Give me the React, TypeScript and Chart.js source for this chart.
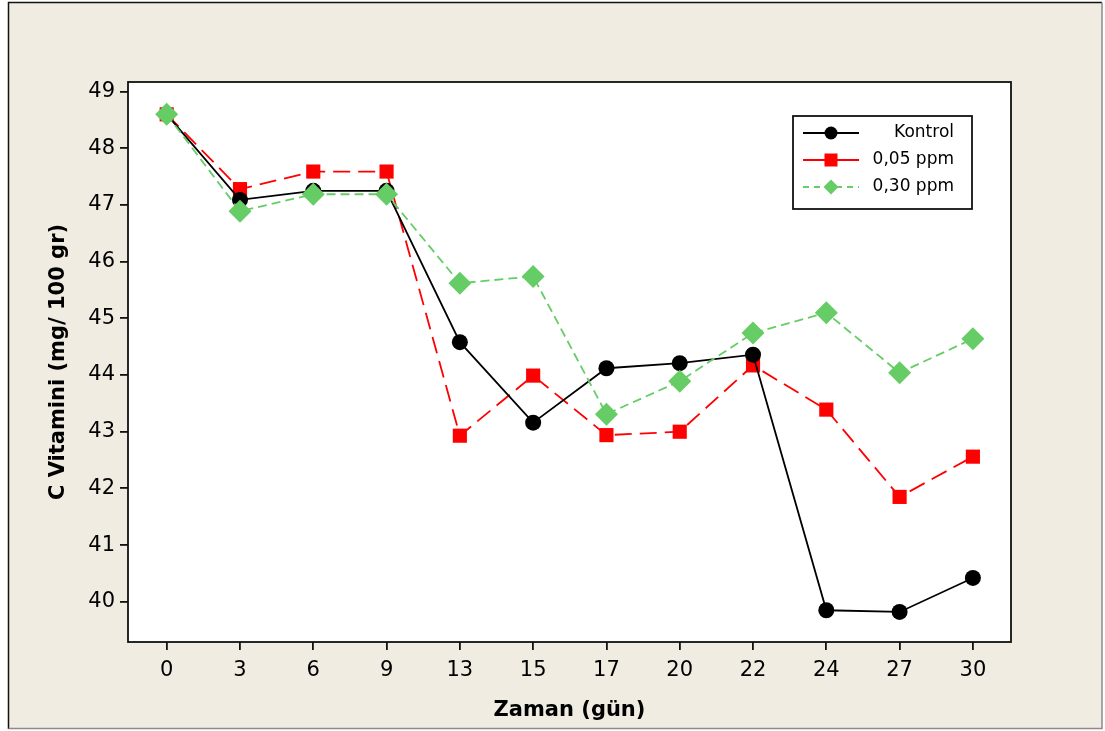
import React, { useEffect, useRef } from 'react';
import { Chart, registerables } from 'chart.js';

Chart.register(...registerables);

const days = ['0', '3', '6', '9', '13', '15', '17', '20', '22', '24', '27', '30'];
const kontrol = [48.6, 47.09, 47.25, 47.25, 44.58, 43.16, 44.12, 44.21, 44.36, 39.85, 39.82, 40.42];
const ppm005 = [48.6, 47.28, 47.59, 47.59, 42.93, 43.99, 42.94, 43.0, 44.17, 43.39, 41.85, 42.56];
const ppm030 = [48.6, 46.89, 47.19, 47.19, 45.62, 45.74, 43.31, 43.89, 44.74, 45.1, 44.04, 44.64];
const yTicks = [40, 41, 42, 43, 44, 45, 46, 47, 48, 49];
const seriesNames = ['Kontrol', '0,05 ppm', '0,30 ppm'];
const xTitle = 'Zaman (gün)';
const yTitle = 'C Vitamini (mg/ 100 gr)';

const FONT = '"DejaVu Sans", Verdana, sans-serif';
const BEIGE = '#F0ECE2';
const RED = '#FF0000';
const GREEN = '#66CC66';

const legendStyles = [
  { color: '#000000', dash: [] as number[], shape: 'circle' },
  { color: RED, dash: [] as number[], shape: 'square' },
  { color: GREEN, dash: [6, 5], shape: 'diamond' },
];

function drawMarker(ctx: CanvasRenderingContext2D, shape: string, x: number, y: number, s: number, color: string) {
  ctx.save();
  ctx.fillStyle = color;
  ctx.beginPath();
  if (shape === 'circle') {
    ctx.arc(x, y, s / 2, 0, Math.PI * 2);
  } else if (shape === 'square') {
    ctx.rect(x - s / 2, y - s / 2, s, s);
  } else {
    ctx.moveTo(x, y - s / 2 - 1);
    ctx.lineTo(x + s / 2 + 1, y);
    ctx.lineTo(x, y + s / 2 + 1);
    ctx.lineTo(x - s / 2 - 1, y);
    ctx.closePath();
  }
  ctx.fill();
  ctx.restore();
}

const framePlugin = {
  id: 'frame',
  beforeDraw(chart: any) {
    const { ctx, chartArea } = chart;
    const W = chart.width;
    const H = chart.height;
    ctx.save();
    ctx.fillStyle = '#FFFFFF';
    ctx.fillRect(0, 0, W, H);
    ctx.fillStyle = BEIGE;
    ctx.fillRect(8, 2, 1094, 727);
    ctx.lineWidth = 1.5;
    ctx.strokeStyle = '#111111';
    ctx.beginPath();
    ctx.moveTo(8.5, 729);
    ctx.lineTo(8.5, 2.5);
    ctx.lineTo(1102, 2.5);
    ctx.stroke();
    ctx.strokeStyle = '#8a8a8a';
    ctx.beginPath();
    ctx.moveTo(1102, 2.5);
    ctx.lineTo(1102, 728.5);
    ctx.lineTo(8.5, 728.5);
    ctx.stroke();
    ctx.fillStyle = '#FFFFFF';
    ctx.fillRect(chartArea.left, chartArea.top, chartArea.right - chartArea.left, chartArea.bottom - chartArea.top);
    ctx.restore();
  },
  beforeDatasetsDraw(chart: any) {
    const { ctx, chartArea } = chart;
    ctx.save();
    ctx.lineWidth = 1.8;
    ctx.strokeStyle = '#111111';
    ctx.strokeRect(chartArea.left, chartArea.top, chartArea.right - chartArea.left, chartArea.bottom - chartArea.top);
    ctx.restore();
  },
  afterDraw(chart: any) {
    const { ctx } = chart;
    const bx = 793, by = 116, bw = 179, bh = 93;
    ctx.save();
    ctx.fillStyle = '#FFFFFF';
    ctx.fillRect(bx, by, bw, bh);
    ctx.lineWidth = 1.8;
    ctx.strokeStyle = '#111111';
    ctx.strokeRect(bx, by, bw, bh);
    const rows = [133, 160, 187];
    seriesNames.forEach((name, i) => {
      const st = legendStyles[i];
      const y = rows[i];
      ctx.strokeStyle = st.color;
      ctx.lineWidth = 1.8;
      ctx.setLineDash(st.dash);
      ctx.beginPath();
      ctx.moveTo(803, y);
      ctx.lineTo(859, y);
      ctx.stroke();
      ctx.setLineDash([]);
      drawMarker(ctx, st.shape, 831, y, st.shape === 'diamond' ? 13 : 13, st.color);
      ctx.fillStyle = '#000000';
      ctx.font = '17px ' + FONT;
      ctx.textAlign = 'right';
      ctx.textBaseline = 'middle';
      ctx.fillText(name, 954, y);
    });
    ctx.restore();
  },
};

export default function App() {
  const ref = useRef<HTMLCanvasElement>(null);

  useEffect(() => {
    document.body.style.margin = '0';
    const canvas = ref.current;
    if (!canvas) return;
    const toXY = (arr: number[]) => arr.map((v, i) => ({ x: i, y: v }));
    const chart = new Chart(canvas, {
      type: 'line',
      data: {
        datasets: [
          {
            label: seriesNames[0],
            data: toXY(kontrol),
            borderColor: '#000000',
            backgroundColor: '#000000',
            borderWidth: 1.8,
            pointStyle: 'circle',
            pointRadius: 8,
            pointBorderWidth: 0,
            tension: 0,
            order: 1,
          },
          {
            label: seriesNames[1],
            data: toXY(ppm005),
            borderColor: RED,
            backgroundColor: RED,
            borderWidth: 1.8,
            borderDash: [17, 8],
            pointStyle: 'rect',
            pointRadius: 10,
            pointBorderWidth: 0,
            tension: 0,
            order: 2,
          },
          {
            label: seriesNames[2],
            data: toXY(ppm030),
            borderColor: GREEN,
            backgroundColor: GREEN,
            borderWidth: 1.8,
            borderDash: [9, 5],
            pointStyle: 'rectRot',
            pointRadius: 11.5,
            pointBorderWidth: 0,
            tension: 0,
            order: 0,
          },
        ],
      },
      options: {
        animation: false,
        responsive: false,
        maintainAspectRatio: false,
        devicePixelRatio: 1,
        layout: { padding: { left: 40, top: 82, right: 94, bottom: 0 } },
        plugins: {
          legend: { display: false },
          tooltip: { enabled: false },
          title: { display: false },
        },
        scales: {
          x: {
            type: 'linear',
            min: -0.528,
            max: 11.52,
            afterBuildTicks: (scale: any) => {
              scale.ticks = days.map((_, i) => ({ value: i }));
            },
            afterFit: (scale: any) => {
              scale.height = 89;
            },
            ticks: {
              color: '#000000',
              font: { family: FONT, size: 21 },
              padding: 8,
              maxRotation: 0,
              autoSkip: false,
              callback: (v: any) => days[Math.round(Number(v))] ?? '',
            },
            grid: {
              drawOnChartArea: false,
              drawTicks: true,
              tickLength: 8,
              color: '#111111',
              lineWidth: 1.8,
            },
            border: { display: false },
            title: {
              display: true,
              text: xTitle,
              color: '#000000',
              font: { family: FONT, size: 21, weight: 'bold' },
              padding: { top: 0, bottom: 8 },
            },
          },
          y: {
            type: 'linear',
            min: 39.29,
            max: 49.17,
            afterBuildTicks: (scale: any) => {
              scale.ticks = yTicks.map((v) => ({ value: v }));
            },
            afterFit: (scale: any) => {
              scale.width = 88;
            },
            ticks: {
              color: '#000000',
              font: { family: FONT, size: 21 },
              padding: 5,
              callback: (v: any) => String(v),
            },
            grid: {
              drawOnChartArea: false,
              drawTicks: true,
              tickLength: 8,
              color: '#111111',
              lineWidth: 1.8,
            },
            border: { display: false },
            title: {
              display: true,
              text: yTitle,
              color: '#000000',
              font: { family: FONT, size: 21, weight: 'bold' },
              padding: { top: 6, bottom: 0 },
            },
          },
        },
      },
      plugins: [framePlugin],
    });
    return () => chart.destroy();
  }, []);

  return <canvas ref={ref} width={1105} height={731} style={{ display: 'block', width: 1105, height: 731 }} />;
}
